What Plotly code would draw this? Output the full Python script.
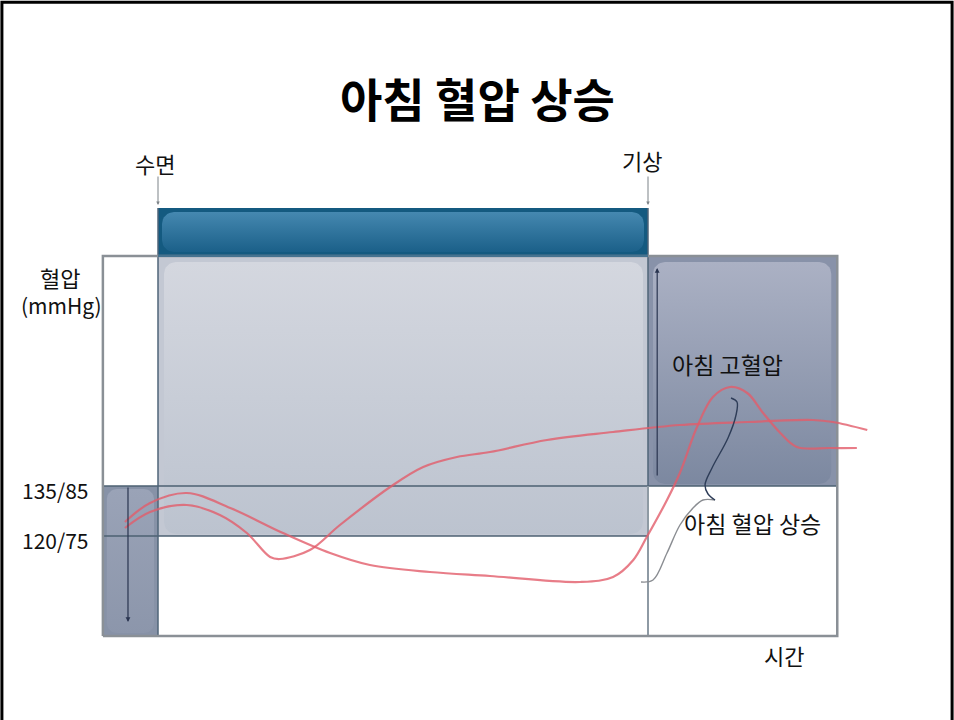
import math
import plotly.graph_objects as go

# ---------------- data (hours after sleep onset, systolic mmHg) ----------------
time_dipper = [-0.54, -0.13, 0.47, 1.18, 2.04, 2.81, 3.46, 4.44, 5.42, 6.89, 7.43, 7.76,
               7.98, 8.31, 8.52, 8.80, 9.06, 9.34, 9.62, 9.88, 10.16, 10.43, 10.97, 11.41]
bp_dipper = [124.2, 129.9, 132.9, 128.4, 120.9, 114.9, 111.3, 109.2, 108.0, 106.2, 107.7, 112.8,
             119.7, 130.8, 138.9, 152.7, 161.7, 164.7, 162.9, 156.9, 150.9, 146.7, 146.4, 146.4]

time_rising = [-0.54, -0.13, 0.47, 1.01, 1.45, 1.83, 1.99, 2.48, 2.97, 3.79, 4.33, 4.88,
               5.42, 6.35, 7.43, 8.52, 9.62, 10.69, 11.02, 11.58]
bp_rising = [122.4, 127.2, 129.3, 126.3, 120.9, 113.7, 113.1, 115.8, 123.3, 134.7, 140.7, 143.7,
             145.2, 148.8, 151.2, 153.3, 154.2, 154.8, 154.2, 151.8]

# brace marking the morning surge
brace_upper_t = [9.355, 9.453, 9.437, 9.306, 9.045, 8.931, 8.980, 9.094]
brace_upper_bp = [161.4, 160.2, 156.3, 149.4, 140.4, 135.3, 132.6, 130.8]
brace_lower_t = [9.094, 8.898, 8.735, 8.522, 8.310, 8.082, 7.886]
brace_lower_bp = [130.8, 130.8, 128.4, 123.3, 114.9, 106.8, 106.2]

SLEEP_START, WAKE = 0.0, 8.0
T_MIN, T_MAX = -0.9, 11.09
BP_MIN, BP_MAX = 90.0, 204.0
BP_HIGH, BP_NORMAL = 135.0, 120.0
SLEEP_BAR_TOP = 218.4

title_text = "아침 혈압 상승"
lbl_sleep, lbl_wake = "수면", "기상"
lbl_y1, lbl_y2 = "혈압", "(mmHg)"
tick_high, tick_normal = "135/85", "120/75"
lbl_mhtn, lbl_surge, lbl_time = "아침 고혈압", "아침 혈압 상승", "시간"

# ---------------- scale (figure pixels <-> data) ----------------
W, H = 954, 720
PX_PER_H = 61.25
MMHG_PER_PX = 0.3
X0_PX, Y0_PX = 158, 636          # pixel of (0 h, 90 mmHg)
x_range = [(0 - X0_PX) / PX_PER_H, (W - X0_PX) / PX_PER_H]
y_range = [BP_MIN - (H - Y0_PX) * MMHG_PER_PX, BP_MIN + Y0_PX * MMHG_PER_PX]

fig = go.Figure()


def rounded(x0, x1, y0, y1, r_px, n=8):
    rx, ry = r_px / PX_PER_H, r_px * MMHG_PER_PX
    pts = []
    for cx, cy, a0, a1 in [(x1 - rx, y1 - ry, 0, 90), (x0 + rx, y1 - ry, 90, 180),
                           (x0 + rx, y0 + ry, 180, 270), (x1 - rx, y0 + ry, 270, 360)]:
        for k in range(n + 1):
            a = math.radians(a0 + (a1 - a0) * k / n)
            pts.append((cx + rx * math.cos(a), cy + ry * math.sin(a)))
    pts.append(pts[0])
    return [p[0] for p in pts], [p[1] for p in pts]


def rect(x0, x1, y0, y1):
    return [x0, x1, x1, x0, x0], [y0, y0, y1, y1, y0]


def fill(xs, ys, top, bottom=None):
    kw = dict(x=xs, y=ys, mode="lines", fill="toself", line=dict(width=0),
              hoverinfo="skip", showlegend=False)
    if bottom is None:
        kw["fillcolor"] = top
    else:
        kw["fillgradient"] = dict(type="vertical", colorscale=[[0, bottom], [1, top]])
    fig.add_trace(go.Scatter(**kw))


def line(xs, ys, color, width, shape="linear"):
    fig.add_trace(go.Scatter(x=xs, y=ys, mode="lines", hoverinfo="skip", showlegend=False,
                             line=dict(color=color, width=width, shape=shape)))


dx, dy = 1 / PX_PER_H, MMHG_PER_PX  # one pixel in data units

# sleep bar
fill(*rect(SLEEP_START, WAKE, BP_MAX, SLEEP_BAR_TOP), "#145a80")
fill(*rounded(SLEEP_START + 4 * dx, WAKE - 4 * dx, BP_MAX + 4 * dy, SLEEP_BAR_TOP - 4 * dy, 12),
     "#4588b0", "#1b6089")

# light gray sleep box
fill(*rect(SLEEP_START, WAKE, BP_NORMAL, BP_MAX), "#c3c8d3")
fill(*rounded(SLEEP_START + 6 * dx, WAKE - 5 * dx, BP_NORMAL + 2 * dy, BP_MAX - 6 * dy, 12),
     "#d4d7df", "#bcc3cf")

# dark box after waking
fill(*rect(WAKE, T_MAX, BP_HIGH, BP_MAX), "#8892a9")
fill(*rounded(WAKE + 5 * dx, T_MAX - 6 * dx, BP_HIGH + 2 * dy, BP_MAX - 6 * dy, 12),
     "#abb1c4", "#7c88a0")

# small box before sleep
fill(*rect(T_MIN, SLEEP_START, BP_MIN, BP_HIGH), "#8792a7")
fill(*rounded(T_MIN + 4 * dx, SLEEP_START - 4 * dx, BP_MIN + 3 * dy, BP_HIGH - 3 * dy, 10),
     "#9aa3b7", "#8c96ab")

# structural lines
line([T_MIN, T_MAX], [BP_HIGH, BP_HIGH], "#4d6072", 1.6)
line([T_MIN, WAKE], [BP_NORMAL, BP_NORMAL], "#4d6072", 1.6)
line([SLEEP_START, SLEEP_START], [BP_MIN, SLEEP_BAR_TOP], "#4f6578", 1.5)
line([WAKE, WAKE], [BP_MIN, BP_HIGH], "#8e9aa4", 2)
line([WAKE, WAKE], [BP_HIGH, SLEEP_BAR_TOP], "#4f6578", 1.5)
line(*rect(T_MIN, T_MAX, BP_MIN, BP_MAX), "#8a9096", 2.5)
line([SLEEP_START, WAKE], [BP_MAX, BP_MAX], "#2f6a8e", 1.5)

# blood pressure curves
red = "rgba(226,92,106,0.8)"
line(time_dipper, bp_dipper, red, 2.2, "spline")
line(time_rising, bp_rising, red, 2.2, "spline")

# brace
line(brace_lower_t, brace_lower_bp, "#8a8d92", 1.4, "spline")
line(brace_upper_t, brace_upper_bp, "#2e3d58", 1.4, "spline")

anns = []


def txt(x, y, s, size=21, **kw):
    d = dict(x=x, y=y, xref="x", yref="y", text=s, showarrow=False,
             font=dict(size=size, color="#111111", family="Noto Sans CJK KR"))
    d.update(kw)
    anns.append(d)


def arrow(x, y_from, y_to, color, width=1.2, size=0.8):
    anns.append(dict(x=x, y=y_to, ax=x, ay=y_from, xref="x", yref="y", axref="x", ayref="y",
                     showarrow=True, arrowhead=2, arrowsize=size, arrowwidth=width,
                     arrowcolor=color, text=""))


# title
anns.append(dict(x=0.5, y=1 - 97 / H, xref="paper", yref="paper", yanchor="middle",
                 text="<b>" + title_text + "</b>", showarrow=False,
                 font=dict(size=46, color="#000000", family="Noto Sans CJK KR")))

txt(-0.05, 231.9, lbl_sleep, 22)
txt(7.90, 232.8, lbl_wake, 22)
txt(-1.60, 197.7, lbl_y1, 22)
txt(-1.58, 189.3, lbl_y2, 21)
txt(-1.68, 133.8, tick_high, 21)
txt(-1.68, 118.8, tick_normal, 21)
txt(9.29, 171.6, lbl_mhtn, 23)
txt(9.71, 123.9, lbl_surge, 23)
txt(10.22, 84.3, lbl_time, 22)

arrow(SLEEP_START, 228.3, 219.3, "#7d8388", 1, 0.7)
arrow(WAKE, 228.3, 219.3, "#7d8388", 1, 0.7)
arrow(-0.49, BP_HIGH, 94.2, "#2a3550", 1.2, 0.8)
arrow(8.15, 137.7, 200.4, "#2a3550", 1.2, 0.8)

fig.update_layout(
    width=W, height=H, margin=dict(l=0, r=0, t=0, b=0),
    paper_bgcolor="white", plot_bgcolor="white", showlegend=False,
    xaxis=dict(range=x_range, visible=False, fixedrange=True),
    yaxis=dict(range=y_range, visible=False, fixedrange=True),
    annotations=anns,
    shapes=[dict(type="rect", xref="paper", yref="paper", x0=0.002, x1=0.998, y0=-0.02, y1=0.997,
                 line=dict(color="black", width=3), layer="above")],
)

fig.write_html("out.html")
